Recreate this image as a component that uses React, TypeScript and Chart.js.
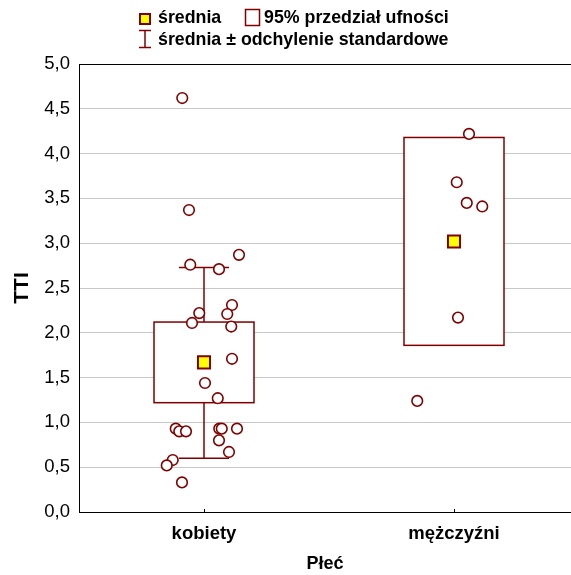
import React, { useEffect, useRef } from "react";
import { Chart, registerables } from "chart.js";

Chart.register(...registerables);

// ---------- data ----------
const categories = ["kobiety", "mężczyźni"];
const meanValues = [1.67, 3.02];
const ciLower = [1.22, 1.86];
const ciUpper = [2.12, 4.18];
const sdLower = [0.6, 1.92];
const sdUpper = [2.73, 4.14];

const kobietyValues = [
  4.62, 3.37, 2.87, 2.76, 2.71, 2.31, 2.21, 2.22, 2.11, 2.07, 1.71, 1.44,
  1.27, 0.93, 0.9, 0.9, 0.93, 0.93, 0.93, 0.8, 0.67, 0.58, 0.52, 0.33,
];
const kobietyJitter = [
  -0.087, -0.06, 0.14, -0.055, 0.06, 0.112, 0.093, -0.019, -0.048, 0.109,
  0.112, 0.004, 0.055, -0.113, -0.099, -0.072, 0.061, 0.071, 0.132, 0.06,
  0.1, -0.125, -0.149, -0.088,
];
const mezczyzniValues = [4.22, 3.68, 3.45, 3.41, 2.17, 1.24];
const mezczyzniJitter = [0.06, 0.011, 0.051, 0.113, 0.016, -0.147];

const yTickValues = [0, 0.5, 1, 1.5, 2, 2.5, 3, 3.5, 4, 4.5, 5];

const legendMean = "średnia";
const legendCI = "95% przedział ufności";
const legendSD = "średnia ± odchylenie standardowe";
const xTitle = "Płeć";
const yTitle = "TTI";

// ---------- style ----------
const MAROON = "#800000";
const FONT = "'Liberation Sans', Arial, sans-serif";
const BOX_HALF = 0.2;
const CAP_HALF = 0.1;

const boxPlugin = {
  id: "boxPlugin",
  beforeDatasetsDraw(chart: any) {
    const { ctx, scales } = chart;
    const xs = scales.x;
    const ys = scales.y;
    ctx.save();
    categories.forEach((_, i) => {
      const xl = xs.getPixelForValue(i - BOX_HALF);
      const xr = xs.getPixelForValue(i + BOX_HALF);
      const xc = xs.getPixelForValue(i);
      const yTop = ys.getPixelForValue(ciUpper[i]);
      const yBot = ys.getPixelForValue(ciLower[i]);
      ctx.lineWidth = 1.5;
      ctx.strokeStyle = MAROON;
      const cl = xs.getPixelForValue(i - CAP_HALF);
      const cr = xs.getPixelForValue(i + CAP_HALF);
      if (sdUpper[i] > ciUpper[i]) {
        const y = ys.getPixelForValue(sdUpper[i]);
        ctx.beginPath();
        ctx.moveTo(xc, yTop);
        ctx.lineTo(xc, y);
        ctx.moveTo(cl, y);
        ctx.lineTo(cr, y);
        ctx.stroke();
      }
      if (sdLower[i] < ciLower[i]) {
        const y = ys.getPixelForValue(sdLower[i]);
        ctx.beginPath();
        ctx.moveTo(xc, yBot);
        ctx.lineTo(xc, y);
        ctx.moveTo(cl, y);
        ctx.lineTo(cr, y);
        ctx.stroke();
      }
      ctx.fillStyle = "#ffffff";
      ctx.fillRect(xl, yTop, xr - xl, yBot - yTop);
      ctx.strokeRect(xl, yTop, xr - xl, yBot - yTop);
    });
    ctx.restore();
  },
  afterDraw(chart: any) {
    const { ctx, scales, chartArea } = chart;
    const xs = scales.x;
    ctx.save();
    ctx.strokeStyle = "#000";
    ctx.lineWidth = 1;
    categories.forEach((_, i) => {
      const x = Math.round(xs.getPixelForValue(i)) + 0.5;
      ctx.beginPath();
      ctx.moveTo(x, chartArea.bottom);
      ctx.lineTo(x, chartArea.bottom - 3);
      ctx.stroke();
    });
    // legend
    ctx.font = `bold 17.8px ${FONT}`;
    ctx.textBaseline = "alphabetic";
    ctx.textAlign = "left";
    ctx.fillStyle = "#ffff00";
    ctx.fillRect(140, 14, 10, 10);
    ctx.strokeStyle = MAROON;
    ctx.lineWidth = 2;
    ctx.strokeRect(140, 14, 10, 10);
    ctx.fillStyle = "#000";
    ctx.fillText(legendMean, 158, 23);
    ctx.lineWidth = 1.5;
    ctx.fillStyle = "#fff";
    ctx.fillRect(245.5, 9.5, 14, 16);
    ctx.strokeRect(245.5, 9.5, 14, 16);
    ctx.fillStyle = "#000";
    ctx.fillText(legendCI, 264, 23);
    ctx.beginPath();
    ctx.moveTo(139, 30.5);
    ctx.lineTo(151, 30.5);
    ctx.moveTo(145, 30.5);
    ctx.lineTo(145, 47.5);
    ctx.moveTo(139, 47.5);
    ctx.lineTo(151, 47.5);
    ctx.stroke();
    ctx.fillText(legendSD, 158, 45);
    ctx.restore();
  },
};

export default function App() {
  const ref = useRef<HTMLCanvasElement | null>(null);
  useEffect(() => {
    if (!ref.current) return;
    const chart = new Chart(ref.current, {
      type: "scatter",
      data: {
        datasets: [
          {
            label: "kobiety",
            data: kobietyValues.map((v, i) => ({ x: 0 + kobietyJitter[i], y: v })),
            pointStyle: "circle",
            pointRadius: 5.3,
            pointBackgroundColor: "#ffffff",
            pointBorderColor: MAROON,
            pointBorderWidth: 1.6,
          },
          {
            label: "mężczyźni",
            data: mezczyzniValues.map((v, i) => ({ x: 1 + mezczyzniJitter[i], y: v })),
            pointStyle: "circle",
            pointRadius: 5.3,
            pointBackgroundColor: "#ffffff",
            pointBorderColor: MAROON,
            pointBorderWidth: 1.6,
          },
          {
            label: "średnia",
            data: meanValues.map((v, i) => ({ x: i, y: v })),
            pointStyle: "rect",
            pointRadius: 8.5,
            pointBackgroundColor: "#ffff00",
            pointBorderColor: MAROON,
            pointBorderWidth: 2,
          },
        ],
      },
      options: {
        animation: false,
        responsive: false,
        devicePixelRatio: 1,
        layout: { autoPadding: false, padding: { top: 64, left: 0, right: 0, bottom: 0 } },
        plugins: {
          legend: { display: false },
          tooltip: { enabled: false },
        },
        scales: {
          x: {
            type: "linear",
            min: -0.5,
            max: 1.468,
            afterBuildTicks: (scale: any) => {
              scale.ticks = categories.map((_, i) => ({ value: i }));
            },
            afterFit: (scale: any) => {
              scale.height = 63;
              scale.paddingLeft = 0;
              scale.paddingRight = 0;
            },
            ticks: {
              callback: (v: any) => categories[Math.round(Number(v))] ?? "",
              font: { family: FONT, size: 18.5, weight: "bold" },
              color: "#000",
              padding: 11,
              maxRotation: 0,
              autoSkip: false,
            },
            grid: { display: false, drawTicks: false },
            border: { display: true, color: "#000", width: 1 },
            title: {
              display: true,
              text: xTitle,
              font: { family: FONT, size: 18, weight: "bold" },
              color: "#000",
              padding: { top: 0, bottom: 0 },
            },
          },
          y: {
            type: "linear",
            min: 0,
            max: 5,
            afterBuildTicks: (scale: any) => {
              scale.ticks = yTickValues.map((v) => ({ value: v }));
            },
            afterFit: (scale: any) => {
              scale.width = 79;
            },
            ticks: {
              callback: (v: any) => Number(v).toFixed(1).replace(".", ","),
              font: { family: FONT, size: 18.5 },
              color: "#000",
              padding: 9,
            },
            grid: {
              drawTicks: false,
              color: (c: any) => (c.tick && c.tick.value === 5 ? "#000" : "#c8c8c8"),
              lineWidth: 1,
            },
            border: { display: true, color: "#000", width: 1 },
            title: {
              display: true,
              text: yTitle,
              font: { family: FONT, size: 21, weight: "bold" },
              color: "#000",
              padding: { top: 10, bottom: 0 },
            },
          },
        },
      },
      plugins: [boxPlugin],
    });
    return () => chart.destroy();
  }, []);
  return (
    <div style={{ position: "absolute", left: 0, top: 0, width: 571, height: 575 }}>
      <canvas ref={ref} width={571} height={575} style={{ display: "block" }} />
    </div>
  );
}
